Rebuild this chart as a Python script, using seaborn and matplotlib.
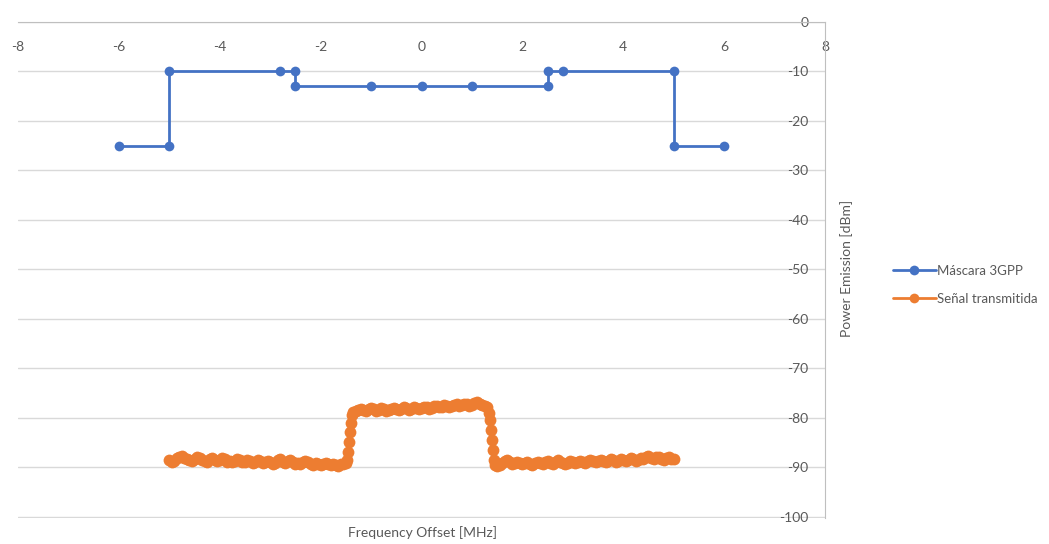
import matplotlib
matplotlib.use("Agg")
import matplotlib.pyplot as plt
import seaborn as sns

# 3GPP spectrum emission mask
mask_x = [-6, -5, -5, -2.8, -2.5, -2.5, -1, 0, 1, 2.5, 2.5, 2.8, 5, 5, 6]
mask_y = [-25, -25, -10, -10, -10, -13, -13, -13, -13, -13, -10, -10, -10, -25, -25]

# transmitted signal
sig_x = [-5.00, -4.95, -4.90, -4.85, -4.80, -4.75, -4.70, -4.65, -4.60, -4.55,
         -4.50, -4.45, -4.40, -4.35, -4.30, -4.25, -4.20, -4.15, -4.10, -4.05,
         -4.00, -3.95, -3.90, -3.85, -3.80, -3.75, -3.70, -3.65, -3.60, -3.55,
         -3.50, -3.45, -3.40, -3.35, -3.30, -3.25, -3.20, -3.15, -3.10, -3.05,
         -3.00, -2.95, -2.90, -2.85, -2.80, -2.75, -2.70, -2.65, -2.60, -2.55,
         -2.50, -2.45, -2.40, -2.35, -2.30, -2.25, -2.20, -2.15, -2.10, -2.05,
         -2.00, -1.95, -1.90, -1.85, -1.80, -1.75, -1.70, -1.65, -1.60, -1.55,
         -1.50,
         -1.48, -1.46, -1.44, -1.42, -1.40, -1.38,
         -1.35, -1.30, -1.25, -1.20, -1.15, -1.10, -1.05, -1.00, -0.95, -0.90,
         -0.85, -0.80, -0.75, -0.70, -0.65, -0.60, -0.55, -0.50, -0.45, -0.40,
         -0.35, -0.30, -0.25, -0.20, -0.15, -0.10, -0.05, 0.00, 0.05, 0.10,
         0.15, 0.20, 0.25, 0.30, 0.35, 0.40, 0.45, 0.50, 0.55, 0.60,
         0.65, 0.70, 0.75, 0.80, 0.85, 0.90, 0.95, 1.00, 1.05, 1.10,
         1.15, 1.20, 1.25, 1.30,
         1.33, 1.35, 1.37, 1.39, 1.41, 1.43, 1.46,
         1.50, 1.55, 1.60, 1.65, 1.70, 1.75, 1.80, 1.85, 1.90, 1.95,
         2.00, 2.05, 2.10, 2.15, 2.20, 2.25, 2.30, 2.35, 2.40, 2.45,
         2.50, 2.55, 2.60, 2.65, 2.70, 2.75, 2.80, 2.85, 2.90, 2.95,
         3.00, 3.05, 3.10, 3.15, 3.20, 3.25, 3.30, 3.35, 3.40, 3.45,
         3.50, 3.55, 3.60, 3.65, 3.70, 3.75, 3.80, 3.85, 3.90, 3.95,
         4.00, 4.05, 4.10, 4.15, 4.20, 4.25, 4.30, 4.35, 4.40, 4.45,
         4.50, 4.55, 4.60, 4.65, 4.70, 4.75, 4.80, 4.85, 4.90, 4.95,
         5.00]
sig_y = [-88.6, -88.9, -88.7, -88.2, -88.0, -87.8, -88.1, -88.4, -88.6, -88.8,
         -88.3, -88.0, -88.2, -88.6, -88.8, -88.9, -88.4, -88.1, -88.5, -88.8,
         -88.6, -88.2, -88.4, -88.9, -88.7, -89.0, -88.8, -88.3, -88.6, -89.0,
         -88.9, -88.5, -88.7, -89.1, -88.9, -88.6, -88.8, -89.2, -89.0, -88.7,
         -88.9, -89.3, -89.1, -88.6, -88.4, -88.9, -89.2, -88.8, -88.5, -89.0,
         -89.3, -89.1, -89.4, -89.0, -88.7, -88.9, -89.3, -89.5, -89.2, -89.4,
         -89.6, -89.3, -89.1, -89.4, -89.6, -89.3, -89.5, -89.7, -89.4, -89.3,
         -89.1,
         -88.5, -87.0, -85.0, -83.0, -81.0, -79.5,
         -78.9, -78.6, -78.4, -78.2, -78.5, -78.7, -78.3, -78.0, -78.2, -78.6,
         -78.4, -78.1, -78.3, -78.6, -78.4, -78.2, -78.0, -78.3, -78.5, -78.2,
         -77.9, -78.1, -78.4, -78.2, -77.9, -78.0, -78.3, -78.1, -77.8, -77.9,
         -78.2, -78.0, -77.7, -77.6, -77.9, -77.8, -77.5, -77.6, -77.9, -77.7,
         -77.4, -77.3, -77.6, -77.5, -77.2, -77.3, -77.6, -77.4, -77.1, -76.9,
         -77.2, -77.4, -77.6, -77.9,
         -79.0, -80.5, -82.5, -84.5, -86.5, -88.5, -89.6,
         -89.8, -89.5, -89.2, -88.8, -88.5, -89.0, -89.3, -89.1, -88.9, -89.2,
         -89.4, -89.1, -88.9, -89.3, -89.5, -89.2, -89.0, -89.2, -89.4, -89.0,
         -88.8, -89.1, -89.3, -88.9, -88.6, -88.9, -89.2, -89.4, -89.1, -88.8,
         -89.0, -89.2, -88.9, -88.7, -88.9, -89.1, -88.8, -88.6, -88.8, -89.0,
         -88.7, -88.5, -88.8, -89.0, -88.7, -88.4, -88.6, -88.9, -88.7, -88.4,
         -88.6, -88.8, -88.5, -88.2, -88.4, -88.7, -88.5, -88.2, -88.4, -88.0,
         -87.8, -88.1, -88.4, -88.0, -87.9, -88.3, -88.5, -88.2, -88.0, -88.3,
         -88.4]

x_ticks = [-8, -6, -4, -2, 0, 2, 4, 6, 8]
y_ticks = [0, -10, -20, -30, -40, -50, -60, -70, -80, -90, -100]

sns.set_style("white")
plt.rcParams["font.family"] = ["Lato", "DejaVu Sans"]
plt.rcParams["axes.unicode_minus"] = False

gray = "#595959"
fig = plt.figure(figsize=(10.49, 5.44), dpi=100)
ax = fig.add_axes([18/1049, 26/544, 807/1049, 496/544])

sns.lineplot(x=mask_x, y=mask_y, ax=ax, sort=False, estimator=None,
             color="#4472C4", linewidth=2, marker="o", markersize=7,
             markeredgewidth=0, label="Máscara 3GPP")
sns.lineplot(x=sig_x, y=sig_y, ax=ax, sort=False, estimator=None,
             color="#ED7D31", linewidth=2.5, marker="o", markersize=8.5,
             markeredgewidth=0, label="Señal transmitida")

ax.set_xlim(-8, 8)
ax.set_ylim(-100.3, 0)
ax.set_xticks(x_ticks)
ax.set_yticks(y_ticks)
ax.set_xlabel("")
ax.set_ylabel("")

ax.grid(axis="y", color="#D9D9D9", linewidth=1)
ax.grid(axis="x", visible=False)
ax.set_axisbelow(True)

for s in ["top", "right"]:
    ax.spines[s].set_visible(False)
ax.spines["bottom"].set_position(("data", 0))
ax.spines["left"].set_position(("data", 8))
ax.spines["bottom"].set_color("#BFBFBF")
ax.spines["left"].set_color("#BFBFBF")
ax.tick_params(axis="both", length=0, labelsize=10, labelcolor=gray)
ax.tick_params(axis="x", pad=14)
ax.tick_params(axis="y", pad=12)

fig.text(422/1049, 1 - 533/544, "Frequency Offset [MHz]", ha="center",
         va="center", fontsize=10, color=gray)
fig.text(847/1049, 1 - 268/544, "Power Emission [dBm]", ha="center",
         va="center", fontsize=10, color=gray, rotation=90)

leg = ax.legend(loc="center left", bbox_to_anchor=(1.07, 0.47), frameon=False,
                fontsize=9.5, labelcolor=gray, handlelength=3.2,
                handletextpad=0.1, labelspacing=1.2)
for h in leg.legend_handles:
    h.set_markersize(7)
    h.set_linewidth(2)

fig.savefig("out.png", dpi=100)
